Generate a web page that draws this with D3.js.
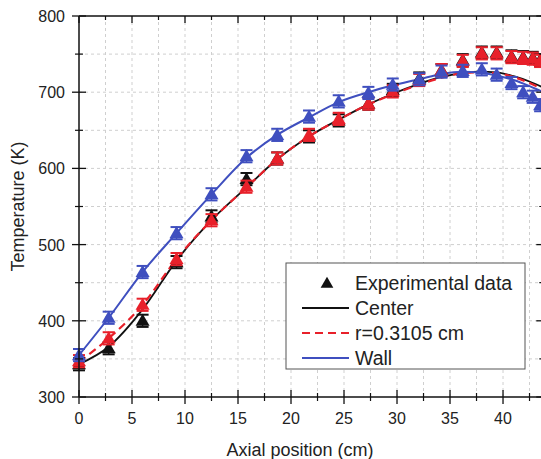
<!DOCTYPE html>
<html>
<head>
<meta charset="utf-8">
<script src="https://cdn.jsdelivr.net/npm/d3@7"></script>
<style>
  html, body { margin: 0; padding: 0; background: #fff; }
  svg { display: block; }
  text { font-family: "Liberation Sans", Arial, sans-serif; fill: #222; }
</style>
</head>
<body>
<div id="chart"></div>
<script>
// ---- Data ----
const expX     = [0, 2.8, 6.0, 9.2, 12.5, 15.8, 18.7, 21.7, 24.5, 27.3, 29.6, 32.1, 34.2, 36.2, 38.0, 39.4, 40.8, 41.9, 42.8, 43.5];
const expCenter= [343, 364, 400, 477, 537, 586, 613, 642, 663, 685, 703, 718, 729, 742, 752, 752, 747, 746, 745, 742];
const expR     = [347, 377, 421, 481, 532, 576, 613, 644, 665, 685, 701, 716, 729, 741, 751, 751, 746, 745, 744, 741];
const expWall  = [355, 404, 464, 515, 566, 616, 644, 668, 688, 699, 710, 717, 727, 728, 730, 723, 712, 700, 694, 683];
const errHalf  = 8;

const modelX      = [0, 2.8, 6.0, 9.2, 12.5, 15.8, 18.7, 21.7, 24.5, 27.3, 29.6, 32.1, 34.2, 36.2, 37.8, 39.4, 41.0, 42.5, 43.8];
const modelCenter = [343, 366, 415, 479, 532, 575, 612, 642, 664, 684, 698, 711, 720, 725, 727, 726, 721, 714, 706];
const modelR      = [346, 377, 421, 481, 532, 575, 612, 642, 664, 684, 697, 710, 719, 725, 726, 725, 720, 712, 704];
const modelWall   = [355, 404, 464, 515, 566, 614, 644, 667, 687, 700, 709, 717, 724, 727, 726, 722, 716, 708, 700];

const xTicks = [0, 5, 10, 15, 20, 25, 30, 35, 40];
const yTicks = [300, 400, 500, 600, 700, 800];
const legendLabels = ["Experimental data", "Center", "r=0.3105 cm", "Wall"];

const W = 541, H = 459;
const colBlack = "#111", colRed = "#e8202a", colBlue = "#3f4fbf";

const svg = d3.select("#chart").append("svg").attr("width", W).attr("height", H);

const x = d3.scaleLinear().domain([0, 43.8]).range([79, 543.3]);
const y = d3.scaleLinear().domain([300, 800]).range([397, 16]);

// grid
const gridX = d3.range(2.5, 43.8, 2.5);
const gridY = d3.range(350, 800, 50);
svg.append("g").selectAll("line").data(gridX).join("line")
  .attr("x1", d => x(d)).attr("x2", d => x(d)).attr("y1", y(300)).attr("y2", y(800))
  .attr("stroke", "#cfcfcf").attr("stroke-width", 1).attr("stroke-dasharray", "3,3");
svg.append("g").selectAll("line").data(gridY).join("line")
  .attr("x1", x(0)).attr("x2", x(43.8)).attr("y1", d => y(d)).attr("y2", d => y(d))
  .attr("stroke", "#cfcfcf").attr("stroke-width", 1).attr("stroke-dasharray", "3,3");

// lines
function lineOf(xs, ys) {
  return d3.line().x((d, i) => x(xs[i])).y(d => y(d)).curve(d3.curveMonotoneX)(ys);
}
svg.append("path").attr("d", lineOf(modelX, modelCenter)).attr("fill", "none").attr("stroke", colBlack).attr("stroke-width", 1.8);
svg.append("path").attr("d", lineOf(modelX, modelR)).attr("fill", "none").attr("stroke", colRed).attr("stroke-width", 2.2).attr("stroke-dasharray", "8,5");
svg.append("path").attr("d", lineOf(modelX, modelWall)).attr("fill", "none").attr("stroke", colBlue).attr("stroke-width", 2);

// markers
const tri = d3.symbol().type(d3.symbolTriangle).size(85);
function drawSeries(vals, color) {
  const g = svg.append("g");
  const pts = vals.map((v, i) => ({x: expX[i], v}));
  g.selectAll("line.err").data(pts).join("line")
    .attr("x1", d => x(d.x)).attr("x2", d => x(d.x))
    .attr("y1", d => y(d.v - errHalf)).attr("y2", d => y(d.v + errHalf))
    .attr("stroke", color).attr("stroke-width", 1.4);
  g.selectAll("line.capT").data(pts).join("line")
    .attr("x1", d => x(d.x) - 6).attr("x2", d => x(d.x) + 6)
    .attr("y1", d => y(d.v + errHalf)).attr("y2", d => y(d.v + errHalf))
    .attr("stroke", color).attr("stroke-width", 2);
  g.selectAll("line.capB").data(pts).join("line")
    .attr("x1", d => x(d.x) - 6).attr("x2", d => x(d.x) + 6)
    .attr("y1", d => y(d.v - errHalf)).attr("y2", d => y(d.v - errHalf))
    .attr("stroke", color).attr("stroke-width", 2);
  g.selectAll("path").data(pts).join("path")
    .attr("d", tri).attr("transform", d => `translate(${x(d.x)},${y(d.v) + 1})`)
    .attr("fill", color);
}
drawSeries(expCenter, colBlack);
drawSeries(expR, colRed);
drawSeries(expWall, colBlue);

// frame (right axis just off the canvas)
const axisCol = "#111";
svg.append("line").attr("x1", x(0)).attr("x2", x(43.8)).attr("y1", y(300)).attr("y2", y(300)).attr("stroke", axisCol).attr("stroke-width", 1.5);
svg.append("line").attr("x1", x(0)).attr("x2", x(43.8)).attr("y1", y(800)).attr("y2", y(800)).attr("stroke", axisCol).attr("stroke-width", 1.5);
svg.append("line").attr("x1", x(0)).attr("x2", x(0)).attr("y1", y(300)).attr("y2", y(800)).attr("stroke", axisCol).attr("stroke-width", 1.5);
svg.append("line").attr("x1", x(43.8)).attr("x2", x(43.8)).attr("y1", y(300)).attr("y2", y(800)).attr("stroke", axisCol).attr("stroke-width", 1.5);

// bottom axis ticks (crossing)
const xMinor = d3.range(2.5, 43.8, 5);
svg.append("g").selectAll("line").data(xTicks).join("line")
  .attr("x1", d => x(d)).attr("x2", d => x(d)).attr("y1", y(300) - 7).attr("y2", y(300) + 7)
  .attr("stroke", axisCol).attr("stroke-width", 1.3);
svg.append("g").selectAll("line").data(xMinor).join("line")
  .attr("x1", d => x(d)).attr("x2", d => x(d)).attr("y1", y(300) - 4).attr("y2", y(300) + 4)
  .attr("stroke", axisCol).attr("stroke-width", 1.2);
// top axis ticks (inward)
svg.append("g").selectAll("line").data(xTicks).join("line")
  .attr("x1", d => x(d)).attr("x2", d => x(d)).attr("y1", y(800)).attr("y2", y(800) + 7)
  .attr("stroke", axisCol).attr("stroke-width", 1.3);
svg.append("g").selectAll("line").data(xMinor).join("line")
  .attr("x1", d => x(d)).attr("x2", d => x(d)).attr("y1", y(800)).attr("y2", y(800) + 4)
  .attr("stroke", axisCol).attr("stroke-width", 1.2);
// left axis ticks (crossing)
const yMinor = d3.range(350, 800, 100);
svg.append("g").selectAll("line").data(yTicks).join("line")
  .attr("x1", x(0) - 7).attr("x2", x(0) + 7).attr("y1", d => y(d)).attr("y2", d => y(d))
  .attr("stroke", axisCol).attr("stroke-width", 1.3);
svg.append("g").selectAll("line").data(yMinor).join("line")
  .attr("x1", x(0) - 4).attr("x2", x(0) + 4).attr("y1", d => y(d)).attr("y2", d => y(d))
  .attr("stroke", axisCol).attr("stroke-width", 1.2);
// right axis ticks (inward)
svg.append("g").selectAll("line").data(yTicks).join("line")
  .attr("x1", x(43.8) - 7).attr("x2", x(43.8)).attr("y1", d => y(d)).attr("y2", d => y(d))
  .attr("stroke", axisCol).attr("stroke-width", 1.3);
svg.append("g").selectAll("line").data(yMinor).join("line")
  .attr("x1", x(43.8) - 4).attr("x2", x(43.8)).attr("y1", d => y(d)).attr("y2", d => y(d))
  .attr("stroke", axisCol).attr("stroke-width", 1.2);

// tick labels
svg.append("g").selectAll("text").data(xTicks).join("text")
  .attr("x", d => x(d)).attr("y", 424).attr("text-anchor", "middle")
  .attr("font-size", 16).text(d => d);
svg.append("g").selectAll("text").data(yTicks).join("text")
  .attr("x", 65).attr("y", d => y(d) + 6).attr("text-anchor", "end")
  .attr("font-size", 16).text(d => d);

// axis titles
svg.append("text").attr("x", 300).attr("y", 456).attr("text-anchor", "middle")
  .attr("font-size", 18).text("Axial position (cm)");
svg.append("text").attr("transform", `translate(24,${(y(300) + y(800)) / 2}) rotate(-90)`)
  .attr("text-anchor", "middle").attr("font-size", 18).text("Temperature (K)");

// legend
const lg = svg.append("g");
lg.append("rect").attr("x", 286).attr("y", 263).attr("width", 239).attr("height", 106)
  .attr("fill", "#fff").attr("stroke", "#555").attr("stroke-width", 1);
const rowY = [283, 308, 333, 358];
lg.append("path").attr("d", d3.symbol().type(d3.symbolTriangle).size(70)())
  .attr("transform", `translate(327,${rowY[0] + 1})`).attr("fill", colBlack);
lg.append("line").attr("x1", 302).attr("x2", 349).attr("y1", rowY[1]).attr("y2", rowY[1]).attr("stroke", colBlack).attr("stroke-width", 1.8);
lg.append("line").attr("x1", 302).attr("x2", 349).attr("y1", rowY[2]).attr("y2", rowY[2]).attr("stroke", colRed).attr("stroke-width", 2).attr("stroke-dasharray", "8,5");
lg.append("line").attr("x1", 302).attr("x2", 349).attr("y1", rowY[3]).attr("y2", rowY[3]).attr("stroke", colBlue).attr("stroke-width", 2);
lg.selectAll("text").data(legendLabels).join("text")
  .attr("x", 355).attr("y", (d, i) => rowY[i] + 7).attr("font-size", 19.5).text(d => d);
</script>
</body>
</html>
